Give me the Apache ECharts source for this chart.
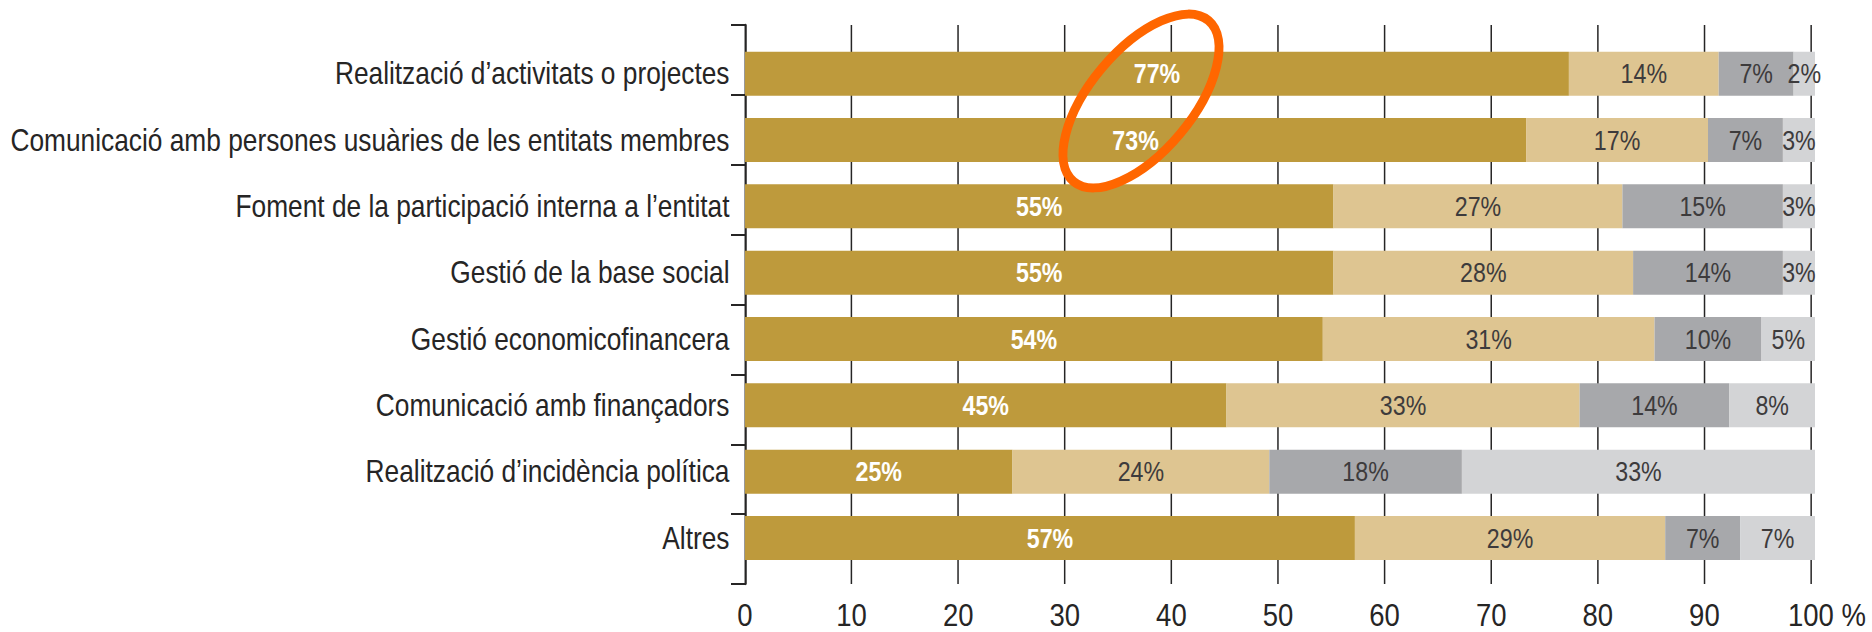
<!DOCTYPE html>
<html>
<head>
<meta charset="utf-8">
<script src="https://cdn.jsdelivr.net/npm/echarts@6/dist/echarts.min.js"></script>
<style>
html,body{margin:0;padding:0;background:#fff;overflow:hidden;}
#wrap{width:1872px;height:632px;overflow:hidden;position:relative;}
#chart{height:632px;transform-origin:0 0;position:absolute;left:0;top:0;}
</style>
</head>
<body>
<div id="wrap"><div id="chart"></div></div>
<script>
const categories = [
  "Realització d’activitats o projectes",
  "Comunicació amb persones usuàries de les entitats membres",
  "Foment de la participació interna a l’entitat",
  "Gestió de la base social",
  "Gestió economicofinancera",
  "Comunicació amb finançadors",
  "Realització d’incidència política",
  "Altres"
];
const seriesA = [77, 73, 55, 55, 54, 45, 25, 57];
const seriesB = [14, 17, 27, 28, 31, 33, 24, 29];
const seriesC = [7, 7, 15, 14, 10, 14, 18, 7];
const seriesD = [2, 3, 3, 3, 5, 8, 33, 7];
const xTicks = [0, 10, 20, 30, 40, 50, 60, 70, 80, 90, 100];

// condensed look: the chart is drawn wider and squeezed horizontally
const K = 0.86;
const W = 1872 / K;
const el = document.getElementById('chart');
el.style.width = W + 'px';
el.style.transform = 'scaleX(' + K + ')';

const FONT = "'Liberation Sans', Arimo, Arial, sans-serif";
const colors = ['#BE9A3C', '#DEC591', '#A7A8AB', '#D3D4D6'];
const ink = '#262525';

const chart = echarts.init(el, null, { renderer: 'svg', width: W, height: 632 });

function mkSeries(name, data, idx, labelColor, bold) {
  return {
    name: name,
    type: 'bar',
    stack: 'total',
    xAxisIndex: 1,
    yAxisIndex: 1,
    barWidth: 44,
    data: data,
    itemStyle: { color: colors[idx] },
    label: {
      show: true,
      position: 'inside',
      formatter: '{c}%',
      color: labelColor,
      fontFamily: FONT,
      fontSize: 27,
      fontWeight: bold ? 'bold' : 'normal'
    },
    silent: true,
    animation: false
  };
}

const option = {
  animation: false,
  grid: [
    { left: 745 / K, right: 61 / K, top: 25, bottom: 48, containLabel: false, outerBoundsMode: 'none' },
    { left: 745 / K, right: 57 / K, top: 40.5, bottom: 60.8, containLabel: false, outerBoundsMode: 'none' }
  ],
  xAxis: [
    {
      type: 'value', gridIndex: 0, min: 0, max: 100, interval: 10,
      axisLine: { show: false },
      axisTick: { show: false },
      splitLine: { show: true, lineStyle: { color: ink, width: 1.5 / K } },
      axisLabel: {
        fontFamily: FONT, fontSize: 32, color: ink, margin: 15,
        formatter: function (v) {
          if (xTicks.indexOf(v) < 0) return '';
          return v === 100 ? '{s|}100 %' : String(v);
        },
        rich: { s: { width: 37 } }
      }
    },
    {
      type: 'value', gridIndex: 1, min: 0, max: 100,
      show: false
    }
  ],
  yAxis: [
    {
      type: 'category', gridIndex: 0,
      data: categories.map(() => ''),
      axisLine: { show: true, lineStyle: { color: ink, width: 2 / K } },
      axisTick: { show: true, length: 14 / K, lineStyle: { color: ink, width: 2 } },
      axisLabel: { show: false },
      splitLine: { show: false }
    },
    {
      type: 'category', gridIndex: 1, inverse: true,
      data: categories,
      axisLine: { show: false },
      axisTick: { show: false },
      axisLabel: { fontFamily: FONT, fontSize: 30.6, color: ink, margin: 15.5 / K }
    }
  ],
  series: [
    mkSeries('A', seriesA, 0, '#ffffff', true),
    mkSeries('B', seriesB, 1, '#3d3b3c', false),
    mkSeries('C', seriesC, 2, '#3d3b3c', false),
    mkSeries('D', seriesD, 3, '#3d3b3c', false)
  ],
  graphic: [
    {
      type: 'group',
      x: 1141 / K, y: 101,
      scaleX: 1 / K,
      z: 100,
      children: [
        {
          type: 'ellipse',
          rotation: 50 * Math.PI / 180,
          shape: { cx: 0, cy: 0, rx: 105, ry: 51 },
          style: { fill: 'none', stroke: '#FF6600', lineWidth: 9 },
          z: 100
        }
      ]
    }
  ]
};
chart.setOption(option);
</script>
</body>
</html>
